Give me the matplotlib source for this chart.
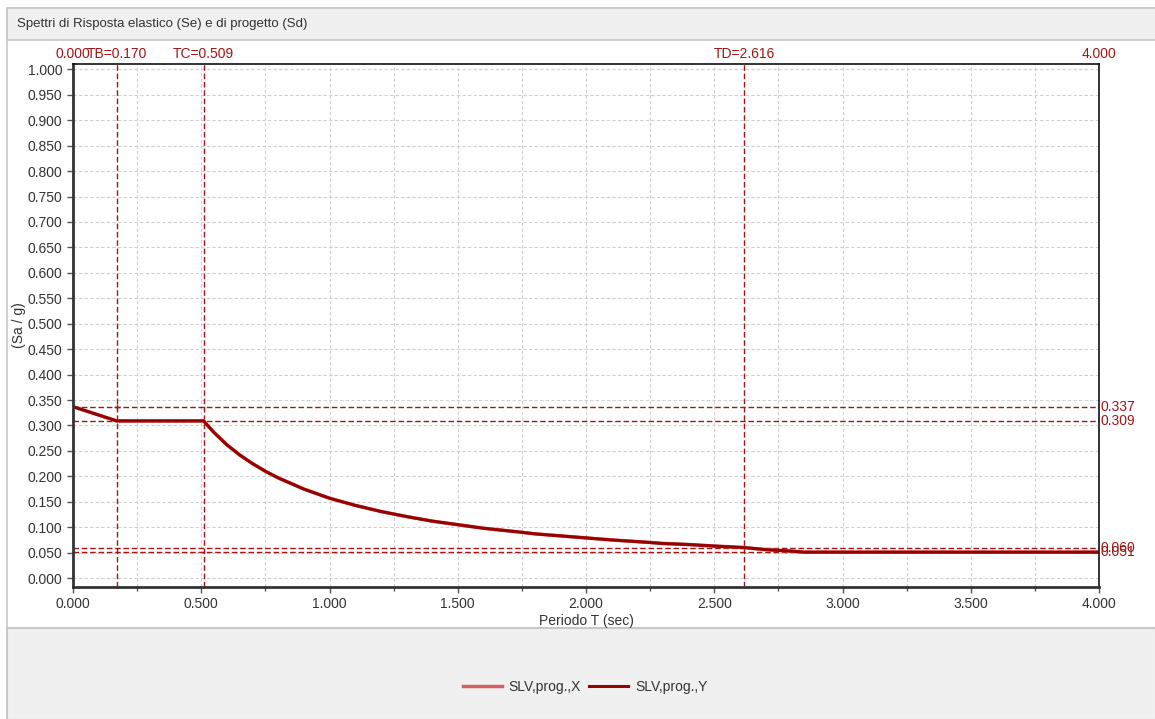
import matplotlib
matplotlib.use("Agg")
import matplotlib.pyplot as plt
from matplotlib.patches import Rectangle

plt.rcParams['font.family'] = ['Liberation Sans', 'DejaVu Sans']

# spectrum
periodo = [0.0, 0.170, 0.509, 0.55, 0.60, 0.65, 0.70, 0.75, 0.80, 0.90, 1.00,
           1.10, 1.20, 1.30, 1.40, 1.50, 1.60, 1.75, 1.80, 1.90, 2.00, 2.10,
           2.25, 2.30, 2.40, 2.50, 2.616, 2.70, 2.80, 2.85, 3.00, 3.50, 4.00]
sa_x = [0.337, 0.309, 0.309, 0.286, 0.262, 0.242, 0.225, 0.210, 0.197, 0.175, 0.157,
        0.143, 0.131, 0.121, 0.112, 0.105, 0.098, 0.090, 0.087, 0.083, 0.079, 0.075,
        0.070, 0.068, 0.066, 0.063, 0.060, 0.056, 0.053, 0.051, 0.051, 0.051, 0.051]
sa_y = list(sa_x)

# reference lines
t_lines = [0.170, 0.509, 2.616]
t_names = ['TB', 'TC', 'TD']
sa_lines = [0.337, 0.309, 0.060, 0.051]

red = '#a31515'
dark = '#990000'
light = '#d46060'

fig = plt.figure(figsize=(11.55, 7.19), dpi=100)
W, H = 1155, 719

def px_rect(x0, y0, x1, y1, **kw):
    fig.patches.append(Rectangle((x0 / W, 1 - y1 / H), (x1 - x0) / W, (y1 - y0) / H,
                                 transform=fig.transFigure, zorder=-5, **kw))

# panel frame, title bar, plot area, legend area
px_rect(7, 8, 1156, 720, facecolor='white', edgecolor='#c8c8c8', linewidth=1.2)
px_rect(7, 8, 1156, 40, facecolor='#f0f0f0', edgecolor='#c8c8c8', linewidth=1.2)
px_rect(7, 628, 1156, 720, facecolor='#f0f0f0', edgecolor='#c8c8c8', linewidth=1.5)
fig.text(17 / W, 1 - 24 / H, 'Spettri di Risposta elastico (Se) e di progetto (Sd)',
         fontsize=9.5, color='#333333', va='center', ha='left')

ax = fig.add_axes([73 / W, 1 - 587 / H, (1099 - 73) / W, (587 - 64) / H], zorder=2)
ax.set_xlim(0, 4)
ax.set_ylim(-0.0175, 1.0105)

ax.set_xticks([i * 0.5 for i in range(9)])
ax.set_xticks([i * 0.25 for i in range(17)], minor=True)
ax.set_yticks([i * 0.05 for i in range(21)])
ax.xaxis.set_major_formatter(plt.FormatStrFormatter('%.3f'))
ax.yaxis.set_major_formatter(plt.FormatStrFormatter('%.3f'))
ax.tick_params(axis='both', which='major', labelsize=10, labelcolor='#333333',
               length=4, width=1, color='#555555')
ax.tick_params(axis='x', which='minor', length=3, width=1, color='#555555')
ax.grid(True, which='both', axis='x', color='#d0d0d0', linestyle=(0, (3, 2)), linewidth=0.8)
ax.grid(True, which='major', axis='y', color='#d0d0d0', linestyle=(0, (3, 2)), linewidth=0.8)
ax.set_axisbelow(True)

for side in ['left', 'bottom']:
    ax.spines[side].set_linewidth(2)
    ax.spines[side].set_color('#333333')
for side in ['top', 'right']:
    ax.spines[side].set_linewidth(1.2)
    ax.spines[side].set_color('#111111')

ax.set_xlabel('Periodo T (sec)', fontsize=10, color='#333333', labelpad=2)
ax.set_ylabel('(Sa / g)', fontsize=10, color='#333333', labelpad=1)

# reference lines
top = 1.0105 + 0.005
for t, name in zip(t_lines, t_names):
    ax.axvline(t, color=red, linestyle=(0, (4, 2)), linewidth=1)
    ax.text(t, top, f'{name}={t:.3f}', color=red, fontsize=10,
            ha='center', va='bottom', clip_on=False)
ax.text(0.0, top, '0.000', color=red, fontsize=10, ha='center', va='bottom')
ax.text(4.0, top, '4.000', color=red, fontsize=10, ha='center', va='bottom')

for s in sa_lines:
    ax.axhline(s, color=red, linestyle=(0, (4, 2)), linewidth=1)
    ax.text(4.005, s, f'{s:.3f}', color=red, fontsize=10, ha='left', va='center',
            clip_on=False)

ax.plot(periodo, sa_x, color=light, linewidth=2.5, label='SLV,prog.,X')
ax.plot(periodo, sa_y, color=dark, linewidth=2.2, label='SLV,prog.,Y')
ax.plot([t_lines[0]], [sa_lines[0]], marker='+', color=red, markersize=5)

fig.legend(loc='center', bbox_to_anchor=(585 / W, 1 - 687 / H), ncol=2, frameon=False,
           fontsize=10, handlelength=2.8, columnspacing=0.6, handletextpad=0.5,
           labelcolor='#333333')

fig.savefig('out.png', dpi=100)
